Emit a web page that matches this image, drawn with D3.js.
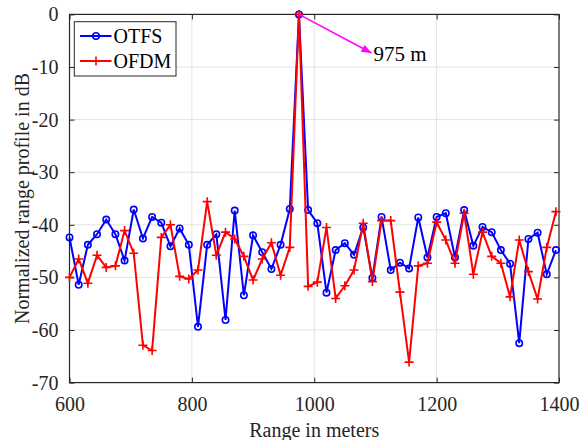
<!DOCTYPE html>
<html>
<head>
<meta charset="utf-8">
<script src="https://cdn.jsdelivr.net/npm/d3@7"></script>
<style>
  html, body { margin: 0; padding: 0; background: #fff; }
  svg { display: block; font-family: "Liberation Serif", "Times New Roman", serif; }
  svg .tick text { font-family: "Liberation Serif", "Times New Roman", serif; font-size: 20px; fill: #262626; }
</style>
</head>
<body>
<svg id="chart" width="587" height="440"></svg>
<script>
// Range bins (15 m resolution) from 600 m to 1395 m
const rangeBins = d3.range(54).map(k => 600 + 15 * k);

// Normalized range profile (dB) for each waveform
const otfsDb = [
  -42.4, -51.4, -43.8, -41.8, -39.0, -41.8, -46.8, -37.1, -42.6, -38.5,
  -39.6, -44.1, -40.7, -43.8, -59.4, -43.8, -41.8, -58.1, -37.3, -53.4,
  -42.0, -45.2, -48.4, -43.8, -37.0,   0.0, -37.2, -39.7, -52.9, -44.8,
  -43.5, -45.7, -40.5, -50.1, -38.5, -48.6, -47.2, -48.3, -38.6, -46.2,
  -38.5, -37.8, -46.2, -37.2, -44.0, -40.4, -41.4, -44.8, -47.4, -62.5,
  -42.7, -41.5, -49.4, -44.8
];
const ofdmDb = [
  -50.0, -46.5, -51.1, -45.8, -48.1, -47.8, -41.1, -45.4, -62.9, -63.9,
  -42.4, -40.0, -49.8, -50.3, -48.6, -35.6, -45.8, -41.4, -42.7, -46.0,
  -50.5, -46.5, -43.4, -49.6, -44.3,   0.0, -51.7, -50.9, -40.5, -54.0,
  -51.6, -48.6, -39.7, -50.8, -39.2, -39.2, -52.8, -66.1, -47.8, -47.3,
  -39.5, -42.9, -47.3, -37.8, -49.4, -41.4, -46.0, -47.3, -53.7, -42.9,
  -48.9, -54.1, -44.3, -37.5
];

const xTicks = [600, 800, 1000, 1200, 1400];
const yTicks = [0, -10, -20, -30, -40, -50, -60, -70];
const seriesNames = ["OTFS", "OFDM"];
const peakRange = 975;
const peakLabel = "975 m";

const svg = d3.select("#chart");
const plot = { left: 69.5, right: 559, top: 14.4, bottom: 382.6 };
const w = plot.right - plot.left, h = plot.bottom - plot.top;

const x = d3.scaleLinear().domain([600, 1400]).range([plot.left, plot.right]);
const y = d3.scaleLinear().domain([-70, 0]).range([plot.bottom, plot.top]);

const axisColor = "#262626";
const gridColor = "#e3e3e3";

// Grid
const grid = svg.append("g");
grid.selectAll(".gx").data(xTicks.slice(1, -1)).join("line")
  .attr("x1", d => x(d)).attr("x2", d => x(d))
  .attr("y1", plot.top).attr("y2", plot.bottom)
  .attr("stroke", gridColor).attr("stroke-width", 1);
grid.selectAll(".gy").data(yTicks.slice(1, -1)).join("line")
  .attr("x1", plot.left).attr("x2", plot.right)
  .attr("y1", d => y(d)).attr("y2", d => y(d))
  .attr("stroke", gridColor).attr("stroke-width", 1);

// Axes (ticks pointing inward, box on all sides)
const tickLen = 5;
const plain = d => String(d);
const styleAxis = g => {
  g.attr("font-family", null).attr("font-size", null);
  g.select(".domain").remove();
  g.selectAll(".tick line").attr("stroke", axisColor);
};
svg.append("g").attr("transform", `translate(0,${plot.bottom})`)
  .call(d3.axisBottom(x).tickValues(xTicks).tickFormat(plain).tickSizeInner(-tickLen).tickSizeOuter(0).tickPadding(tickLen + 9))
  .call(styleAxis);
svg.append("g").attr("transform", `translate(0,${plot.top})`)
  .call(d3.axisTop(x).tickValues(xTicks).tickSizeInner(-tickLen).tickSizeOuter(0).tickFormat(""))
  .call(styleAxis);
svg.append("g").attr("transform", `translate(${plot.left},0)`)
  .call(d3.axisLeft(y).tickValues(yTicks).tickSizeInner(-tickLen).tickSizeOuter(0).tickPadding(tickLen + 6).tickFormat(plain))
  .call(styleAxis);
svg.append("g").attr("transform", `translate(${plot.right},0)`)
  .call(d3.axisRight(y).tickValues(yTicks).tickSizeInner(-tickLen).tickSizeOuter(0).tickFormat(""))
  .call(styleAxis);
svg.append("rect")
  .attr("x", plot.left).attr("y", plot.top).attr("width", w).attr("height", h)
  .attr("fill", "none").attr("stroke", axisColor).attr("stroke-width", 1.2);

// Series
const line = d3.line().x(d => x(d[0])).y(d => y(d[1]));
const otfsPts = rangeBins.map((r, i) => [r, otfsDb[i]]);
const ofdmPts = rangeBins.map((r, i) => [r, ofdmDb[i]]);

svg.append("path").datum(otfsPts).attr("d", line)
  .attr("fill", "none").attr("stroke", "#0000ff").attr("stroke-width", 2);
svg.append("g").selectAll("circle").data(otfsPts).join("circle")
  .attr("cx", d => x(d[0])).attr("cy", d => y(d[1])).attr("r", 3.2)
  .attr("fill", "none").attr("stroke", "#0000ff").attr("stroke-width", 1.6);

svg.append("path").datum(ofdmPts).attr("d", line)
  .attr("fill", "none").attr("stroke", "#ff0000").attr("stroke-width", 2);
svg.append("g").selectAll("path").data(ofdmPts).join("path")
  .attr("transform", d => `translate(${x(d[0])},${y(d[1])})`)
  .attr("d", "M-4.5,0H4.5M0,-4.5V4.5")
  .attr("stroke", "#ff0000").attr("stroke-width", 1.6).attr("fill", "none");

// Peak annotation
const peakIdx = rangeBins.indexOf(peakRange);
const tipX = 371.5, tipY = 53;
svg.append("defs").append("marker")
  .attr("id", "arrowHead").attr("viewBox", "0 0 10 10")
  .attr("refX", 10).attr("refY", 5).attr("markerWidth", 10).attr("markerHeight", 10)
  .attr("markerUnits", "userSpaceOnUse").attr("orient", "auto")
  .append("path").attr("d", "M0,1 L10,5 L0,9 Z").attr("fill", "#ff00ff");
svg.append("line")
  .attr("x1", x(peakRange)).attr("y1", y(otfsDb[peakIdx]))
  .attr("x2", tipX).attr("y2", tipY)
  .attr("stroke", "#ff00ff").attr("stroke-width", 1.6)
  .attr("marker-end", "url(#arrowHead)");
svg.append("text").attr("x", 373.5).attr("y", 60.5)
  .attr("font-size", "21px").attr("fill", "#000").text(peakLabel);

// Legend
const lg = svg.append("g");
lg.append("rect").attr("x", 74.3).attr("y", 21.7).attr("width", 101.7).attr("height", 54.3)
  .attr("fill", "#fff").attr("stroke", "#262626").attr("stroke-width", 1);
const rows = [
  { name: seriesNames[0], color: "#0000ff", y: 36, marker: "circle" },
  { name: seriesNames[1], color: "#ff0000", y: 61, marker: "plus" }
];
rows.forEach(r => {
  lg.append("line").attr("x1", 80).attr("x2", 111.5).attr("y1", r.y).attr("y2", r.y)
    .attr("stroke", r.color).attr("stroke-width", 2);
  if (r.marker === "circle") {
    lg.append("circle").attr("cx", 96).attr("cy", r.y).attr("r", 3.2)
      .attr("fill", "none").attr("stroke", r.color).attr("stroke-width", 1.6);
  } else {
    lg.append("path").attr("transform", `translate(96,${r.y})`)
      .attr("d", "M-4.5,0H4.5M0,-4.5V4.5").attr("stroke", r.color).attr("stroke-width", 1.6);
  }
  lg.append("text").attr("x", 113.5).attr("y", r.y + 7).attr("font-size", "20px")
    .attr("fill", "#000").text(r.name);
});

// Axis titles
svg.append("text").attr("x", (plot.left + plot.right) / 2).attr("y", 437)
  .attr("text-anchor", "middle").attr("font-size", "20px").attr("fill", "#262626")
  .text("Range in meters");
svg.append("text")
  .attr("transform", `translate(29,${(plot.top + plot.bottom) / 2}) rotate(-90)`)
  .attr("text-anchor", "middle").attr("font-size", "20px").attr("fill", "#262626")
  .text("Normalized range profile in dB");
</script>
</body>
</html>
